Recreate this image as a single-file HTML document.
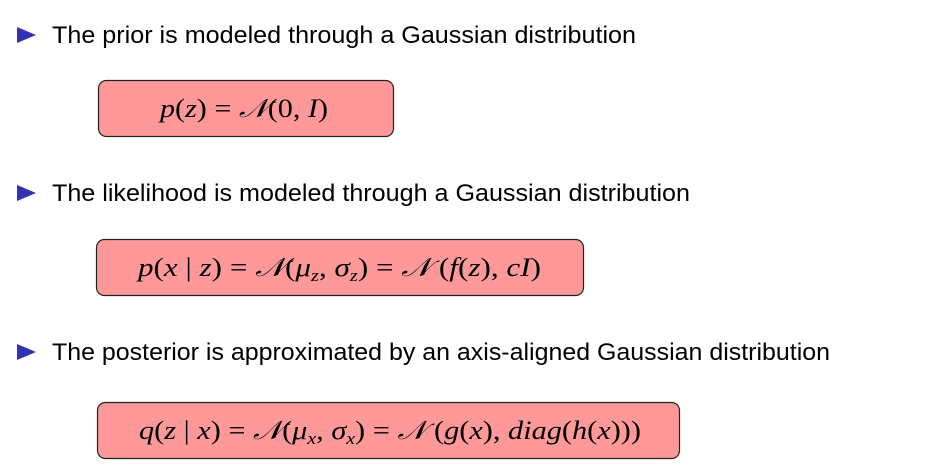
<!DOCTYPE html>
<html><head><style>
body{margin:0;background:#fff;}
svg{display:block}
.t{font-family:"Liberation Sans",sans-serif;font-size:24px;fill:#000}
.m{font-family:"Liberation Serif",serif;font-size:26px;fill:#000}
.i{font-style:italic}
</style></head><body>
<svg width="933" height="473" viewBox="0 0 933 473">
<polygon points="17,27 36,35 17,43" fill="#3232b4"/>
<text class="t" x="52" y="43" textLength="584" lengthAdjust="spacingAndGlyphs">The prior is modeled through a Gaussian distribution</text>
<rect x="98.5" y="80.5" width="295" height="56" rx="8" fill="#ff9999" stroke="#222" stroke-width="1.2"/>
<text class="m" x="160" y="117" textLength="168" lengthAdjust="spacingAndGlyphs"><tspan class="i">p</tspan>(<tspan class="i">z</tspan>) = <tspan class="i">𝒩</tspan>(0, <tspan class="i">I</tspan>)</text>

<polygon points="17,185 36,193 17,201" fill="#3232b4"/>
<text class="t" x="52" y="201" textLength="638" lengthAdjust="spacingAndGlyphs">The likelihood is modeled through a Gaussian distribution</text>
<rect x="96.5" y="239.5" width="487" height="56" rx="8" fill="#ff9999" stroke="#222" stroke-width="1.2"/>
<text class="m" x="138" y="276" textLength="403" lengthAdjust="spacingAndGlyphs"><tspan class="i">p</tspan>(<tspan class="i">x</tspan> | <tspan class="i">z</tspan>) = <tspan class="i">𝒩</tspan>(<tspan class="i">μ</tspan><tspan font-size="17" class="i" dy="5">z</tspan><tspan dy="-5">, </tspan><tspan class="i">σ</tspan><tspan font-size="17" class="i" dy="5">z</tspan><tspan dy="-5">) = </tspan><tspan class="i">𝒩</tspan> (<tspan class="i">f</tspan>(<tspan class="i">z</tspan>), <tspan class="i">cI</tspan>)</text>

<polygon points="17,344 36,352 17,360" fill="#3232b4"/>
<text class="t" x="52" y="360" textLength="778" lengthAdjust="spacingAndGlyphs">The posterior is approximated by an axis-aligned Gaussian distribution</text>
<rect x="97.5" y="402.5" width="582" height="56" rx="8" fill="#ff9999" stroke="#222" stroke-width="1.2"/>
<text class="m" x="139" y="439" textLength="502" lengthAdjust="spacingAndGlyphs"><tspan class="i">q</tspan>(<tspan class="i">z</tspan> | <tspan class="i">x</tspan>) = <tspan class="i">𝒩</tspan>(<tspan class="i">μ</tspan><tspan font-size="17" class="i" dy="5">x</tspan><tspan dy="-5">, </tspan><tspan class="i">σ</tspan><tspan font-size="17" class="i" dy="5">x</tspan><tspan dy="-5">) = </tspan><tspan class="i">𝒩</tspan> (<tspan class="i">g</tspan>(<tspan class="i">x</tspan>), <tspan class="i">diag</tspan>(<tspan class="i">h</tspan>(<tspan class="i">x</tspan>)))</text>
</svg>
</body></html>
